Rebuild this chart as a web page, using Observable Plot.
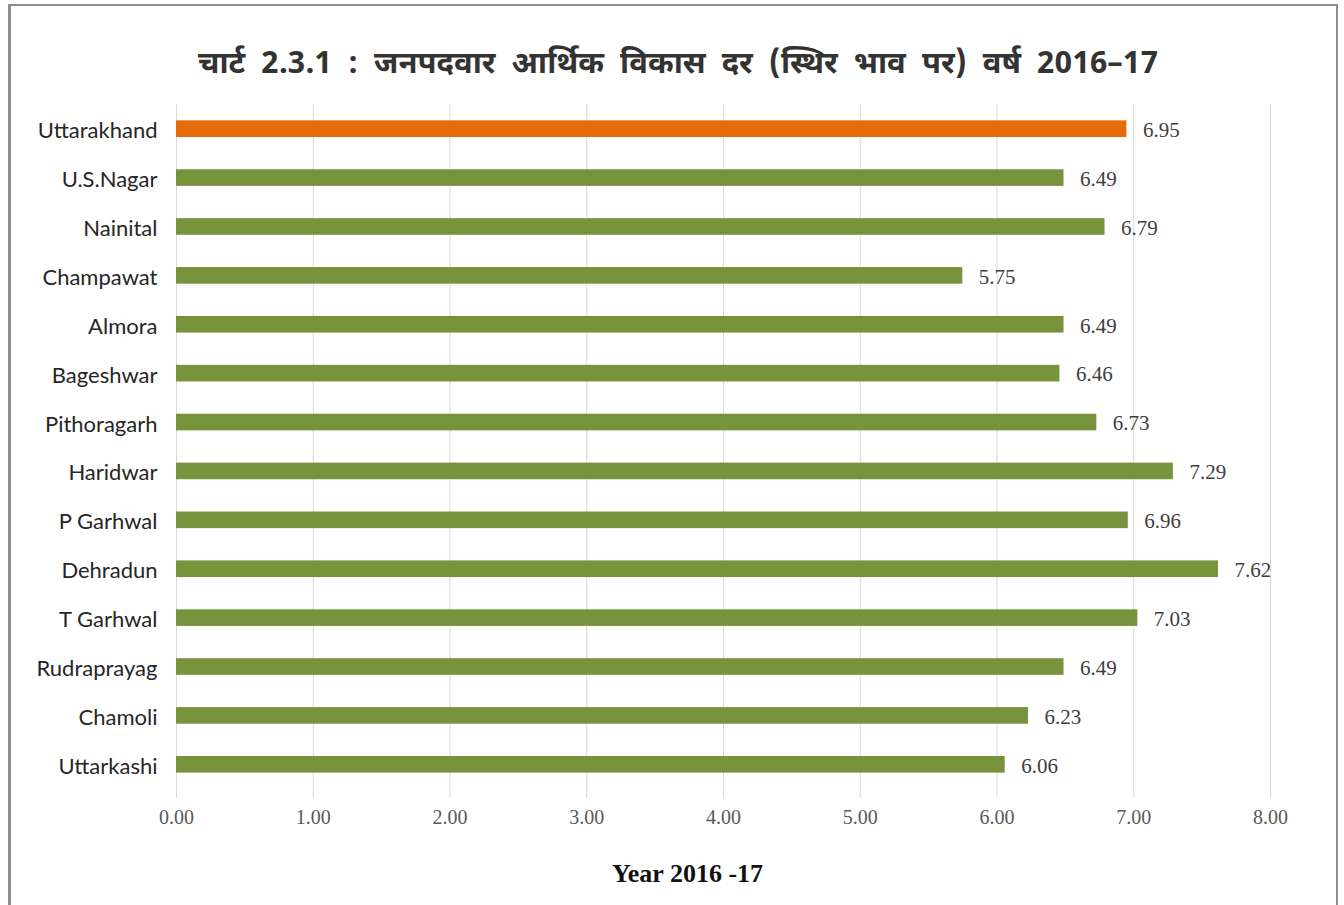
<!DOCTYPE html>
<html>
<head>
<meta charset="utf-8">
<script src="https://cdn.jsdelivr.net/npm/d3@7"></script>
<script src="https://cdn.jsdelivr.net/npm/@observablehq/plot@0.6"></script>
<style>
  html, body { margin: 0; padding: 0; background: #fff; overflow: hidden; }
  #wrap { position: relative; width: 1344px; height: 905px; }
  #frame { position: absolute; left: 8px; top: 4px; width: 1330px; height: 920px;
           border: 2px solid #8f8f8f; border-left-width: 3px; box-sizing: border-box; }
  #title { position: absolute; top: 0; left: 10px; width: 1336px; height: 100px; line-height: 132px;
           text-align: center; font-family: "Noto Sans Devanagari", "Noto Sans", sans-serif;
           font-weight: bold; font-size: 31px; word-spacing: 8px; color: #333; }
  #chart { position: absolute; top: 100px; left: 0; }
</style>
</head>
<body>
<div id="wrap">
  <div id="frame"></div>
  <div id="title">चार्ट 2.3.1 : जनपदवार आर्थिक विकास दर (स्थिर भाव पर) वर्ष 2016–17</div>
  <div id="chart"></div>
</div>
<script>
const districts = ["Uttarakhand","U.S.Nagar","Nainital","Champawat","Almora","Bageshwar","Pithoragarh","Haridwar","P Garhwal","Dehradun","T Garhwal","Rudraprayag","Chamoli","Uttarkashi"];
const growth = [6.95,6.49,6.79,5.75,6.49,6.46,6.73,7.29,6.96,7.62,7.03,6.49,6.23,6.06];
const xTicks = [0,1,2,3,4,5,6,7,8];
const groups = ["state","district"];
const groupColors = ["#E46C0A","#77933C"];
const axisTitle = "Year 2016 -17";

const data = districts.map((d, i) => ({district: d, value: growth[i], group: i === 0 ? "state" : "district"}));

const serif = "'Liberation Serif', 'Times New Roman', serif";

const chart = Plot.plot({
  width: 1344,
  height: 805,
  marginTop: 4,
  marginBottom: 116,
  marginLeft: 176,
  marginRight: 74,
  x: {domain: [0, 8]},
  y: {domain: districts, paddingInner: 0.66, paddingOuter: 0.335, round: false},
  color: {domain: groups, range: groupColors},
  marks: [
    Plot.axisX({ticks: xTicks, tickSize: 9, tickPadding: 11, stroke: "#d9d9d9", fill: "#595959",
      tickFormat: d => d.toFixed(2), fontFamily: serif, fontSize: 20, label: null}),
    Plot.gridX(xTicks, {stroke: "#d9d9d9", strokeOpacity: 1}),
    Plot.axisY({tickSize: 0, tickPadding: 19, fill: "#262626", fontFamily: "Lato, 'Open Sans', sans-serif",
      fontSize: 22, label: null, dy: 2}),
    Plot.barX(data, {x: "value", y: "district", fill: "group"}),
    Plot.text(data, {x: "value", y: "district", text: d => d.value.toFixed(2), textAnchor: "start", dx: 16, dy: 1,
      fontFamily: serif, fontSize: 21, fill: "#404040"}),
    Plot.text([axisTitle], {frameAnchor: "bottom", dy: 92, dx: -36, fontFamily: serif, fontSize: 26,
      fontWeight: "bold", fill: "#111"})
  ]
});
document.getElementById("chart").appendChild(chart);
</script>
</body>
</html>
